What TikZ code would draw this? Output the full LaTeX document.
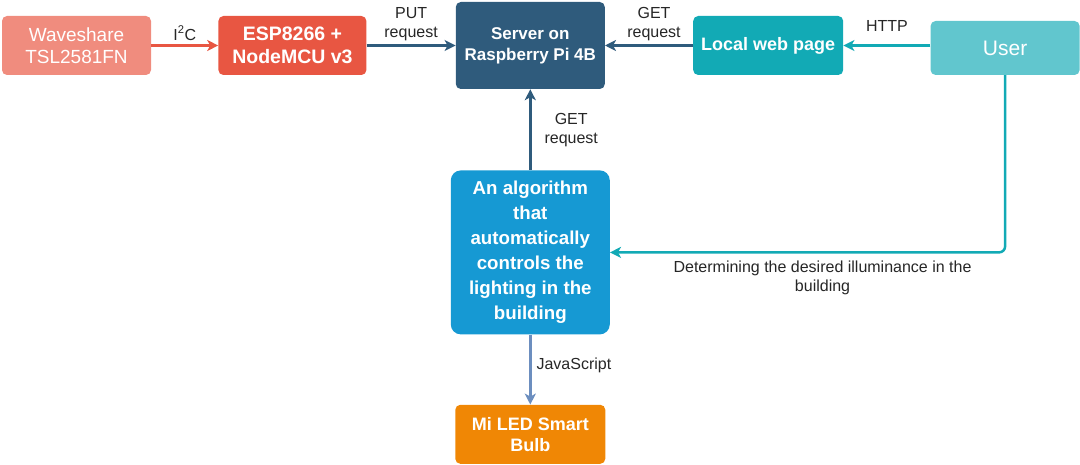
\documentclass[tikz,border=0pt]{standalone}
\usepackage{fontspec}
\setmainfont{Liberation Sans}
\usepackage{xcolor}
\usetikzlibrary{arrows.meta,positioning,calc}

\definecolor{waveFill}{HTML}{F08C7E}
\definecolor{espFill}{HTML}{E85642}
\definecolor{serverFill}{HTML}{2F5B7C}
\definecolor{webFill}{HTML}{12AAB5}
\definecolor{userFill}{HTML}{61C6CE}
\definecolor{algoFill}{HTML}{1699D3}
\definecolor{bulbFill}{HTML}{F08705}
\definecolor{jsLine}{HTML}{6C8EBF}

\begin{document}
\begin{tikzpicture}[
    node distance=60pt,
    block/.style={
        rectangle,
        text=white,
        align=center,
        inner sep=0pt,
        rounded corners=5pt,
        minimum width=149pt,
        minimum height=59pt,
        font=\bfseries\fontsize{18}{21}\selectfont
    },
    line/.style={
        draw,
        line width=2.5pt,
        -{Stealth[length=11pt,width=11pt,inset=3pt]}
    },
    lbl/.style={
        text=black!85,
        align=center,
        inner sep=1pt,
        font=\fontsize{16}{19}\selectfont
    }
]
\useasboundingbox (0,0) rectangle (1080pt,-465pt);

% Nodes
\node [block, fill=waveFill, font=\fontsize{19}{22}\selectfont] (wave) at (76.5pt,-45.5pt) {Waveshare\\TSL2581FN};
\node [block, fill=espFill, minimum width=148pt, font=\bfseries\fontsize{19.5}{23}\selectfont, right=67pt of wave] (esp) {ESP8266 +\\NodeMCU v3};
\node [block, fill=serverFill, minimum height=87pt, font=\bfseries\fontsize{17}{21}\selectfont, right=89pt of esp] (server) {Server on\\Raspberry Pi 4B};
\node [block, fill=webFill, minimum width=150pt, right=88pt of server] (web) {Local web page};
\node [block, fill=userFill, minimum height=54pt, font=\fontsize{21}{24}\selectfont, right=87pt of web, yshift=-2.5pt] (user) {User};
\node [block, fill=algoFill, minimum width=159pt, minimum height=164pt, rounded corners=10pt, font=\bfseries\fontsize{18.7}{25}\selectfont, below=81pt of server] (algo) {An algorithm\\that\\automatically\\controls the\\lighting in the\\building};
\node [block, fill=bulbFill, minimum width=150pt, below=70pt of algo] (bulb) {Mi LED Smart\\Bulb};

% Edges
\path [line, espFill] (wave) -- node [lbl, above=3pt] (i2cLbl) {I\textsuperscript{2}C} (esp);
\path [line, serverFill] (esp) -- node [lbl, above=2pt] (putLbl) {PUT\\request} (server);
\path [line, serverFill] (web) -- node [lbl, above=2pt, xshift=5pt] (getLbl) {GET\\request} (server);
\path [line, webFill] (user.west |- web.east) -- node [lbl, above=12pt] (httpLbl) {HTTP} (web.east);
\path [line, serverFill] (algo.north) -- node [lbl, right=12pt] (getUpLbl) {GET\\request} (algo.north |- server.south);
\path [line, webFill, rounded corners=6pt] (user.south) |- node [lbl, pos=0.75, below=6pt, xshift=15pt] (wishLbl) {Determining the desired illuminance in the\\building} (algo.east);
\path [line, jsLine] (algo) -- node [lbl, right=4pt, yshift=4pt] (jsLbl) {JavaScript} (bulb);

\end{tikzpicture}
\end{document}
